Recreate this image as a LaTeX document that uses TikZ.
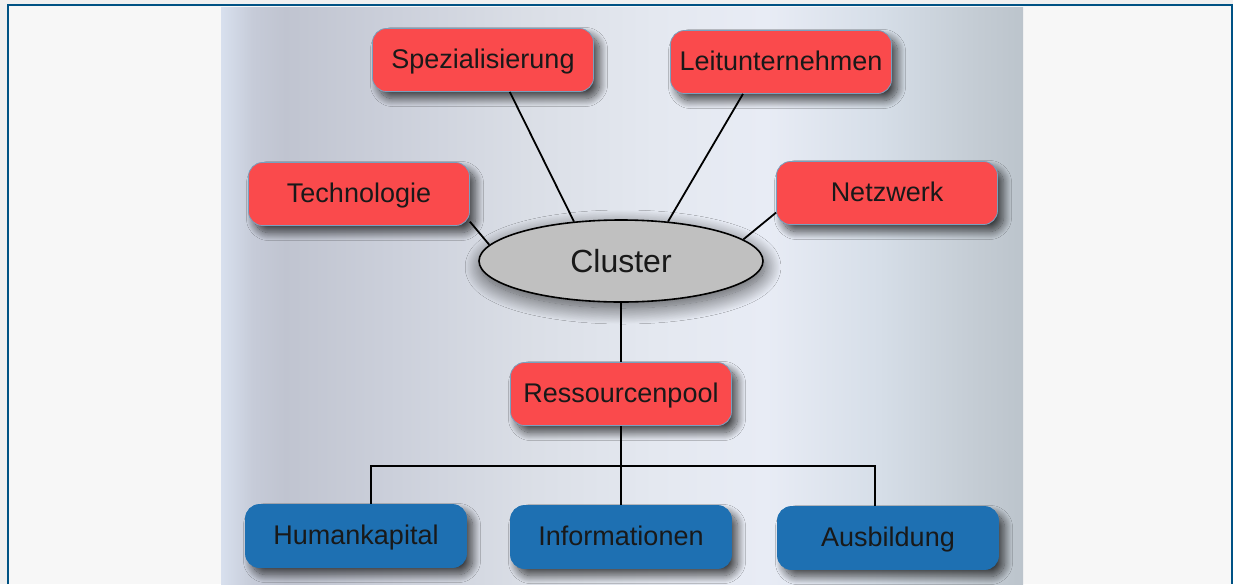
\documentclass[tikz,border=0pt]{standalone}
\usepackage{fontspec}
\setmainfont{Liberation Sans}
\usetikzlibrary{shapes.geometric, shadows.blur}
\definecolor{boxred}{RGB}{250, 74, 76}
\definecolor{boxblue}{RGB}{30, 112, 178}
\definecolor{boxrim}{RGB}{120, 160, 190}
\definecolor{hubgray}{RGB}{192, 192, 192}
\definecolor{framebg}{RGB}{247, 247, 247}
\definecolor{frametop}{RGB}{240, 240, 240}
\definecolor{frameline}{RGB}{0, 82, 132}
\pgfdeclarehorizontalshading{panelshade}{100bp}{%
  rgb(0bp)=(0.847,0.878,0.933);
  rgb(25bp)=(0.847,0.878,0.933);
  rgb(27bp)=(0.776,0.796,0.847);
  rgb(29bp)=(0.753,0.769,0.816);
  rgb(36bp)=(0.8,0.816,0.859);
  rgb(44bp)=(0.855,0.871,0.902);
  rgb(52bp)=(0.894,0.910,0.941);
  rgb(59bp)=(0.910,0.925,0.961);
  rgb(66bp)=(0.839,0.871,0.910);
  rgb(72bp)=(0.769,0.8,0.831);
  rgb(75bp)=(0.737,0.769,0.8);
  rgb(100bp)=(0.737,0.769,0.8)}

\begin{document}
\begin{tikzpicture}[x=1pt, y=-1pt,
    redbox/.style={draw=boxrim, fill=boxred, line width=0.8pt, rounded corners=14pt,
      minimum width=221pt, minimum height=63pt, text=black!90,
      text height=21pt, text depth=5pt,
      font=\fontsize{27}{30}\selectfont,
      blur shadow={shadow xshift=6pt, shadow yshift=-7pt, shadow blur radius=8pt,
        shadow blur steps=16, shadow opacity=70}},
    bluebox/.style={redbox, draw=boxblue, fill=boxblue},
    hub/.style={ellipse, draw=black, fill=hubgray, line width=1.6pt, inner sep=0pt,
      minimum width=284pt, minimum height=82pt, text=black!90,
      font=\fontsize{32}{36}\selectfont,
      blur shadow={shadow xshift=2pt, shadow yshift=-6pt, shadow blur radius=16pt,
        shadow blur steps=24, shadow opacity=65}},
    link/.style={draw=black, line width=1.8pt},
  ]
  \useasboundingbox (0,0) rectangle (1233,584);

  % frame and panel
  \fill[frametop] (0,0) rectangle (1233,584);
  \fill[framebg] (9,6) rectangle (1231,584);
  \fill[shading=panelshade] (221,7) rectangle (1023,584);
  \draw[frameline, line width=2pt] (8,584) -- (8,5) -- (1232,5) -- (1232,584);

  % nodes
  \foreach \nm/\x/\y/\txt in {spez/483/60/Spezialisierung, leit/781/62/Leitunternehmen,
      tech/359/194/Technologie, netz/887/193/Netzwerk, pool/621/394/Ressourcenpool}
    \node[redbox] (\nm) at (\x,\y) {\txt};
  \foreach \nm/\x/\y/\txt in {human/356/536/Humankapital, info/621/537/Informationen,
      ausb/888/538/Ausbildung}
    \node[bluebox] (\nm) at (\x,\y) {\txt};
  \node[hub] (cluster) at (621,261) {Cluster};

  % connectors
  \draw[link] (spez.-50) -- (cluster.140);
  \draw[link] (leit.-140) -- (cluster.40);
  \draw[link] (tech.-14) -- (cluster.173);
  \draw[link] (netz.190) -- (cluster.10);
  \draw[link] (cluster.south) -- (pool.north);
  \draw[link] (pool.south) -- (info.north);
  \coordinate (hdrop) at (371,466);
  \coordinate (adrop) at (875,466);
  \draw[link] (hdrop |- human.north) -- (hdrop) -- (adrop) -- (adrop |- ausb.north);
\end{tikzpicture}
\end{document}
